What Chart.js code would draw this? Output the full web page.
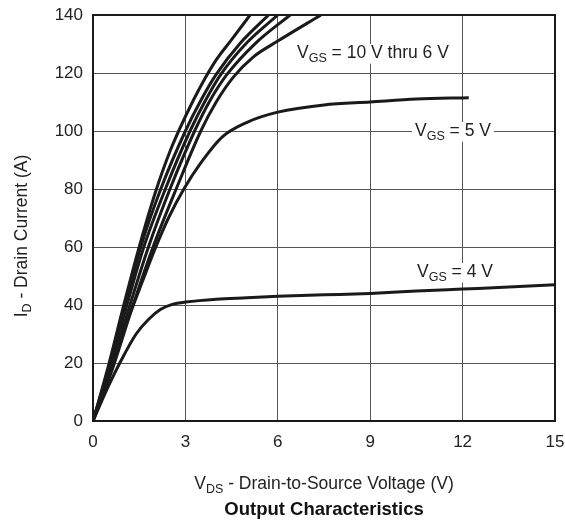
<!DOCTYPE html>
<html>
<head>
  <title>Output Characteristics</title>
  <script src="https://cdn.jsdelivr.net/npm/chart.js"></script>
  <style>
    body { margin: 0; background: #fff; }
  </style>
</head>
<body>
<canvas id="myChart" width="565" height="521"></canvas>

<script>
// V_DS (V) / I_D (A)
var vds10 = [0, 0.5, 1.0, 1.5, 2.0, 2.5, 3.0, 3.5, 4.0, 4.5, 5.1];
var id10  = [0, 19, 40, 60, 78, 93, 105, 115.5, 124.5, 131.5, 140];
var vds9  = [0, 0.5, 1.05, 1.55, 2.2, 3.0, 3.5, 4.0, 4.8, 5.7];
var id9   = [0, 18, 40, 60, 80, 100, 110.5, 119.5, 130.5, 140];
var vds8  = [0, 0.5, 1.1, 1.65, 2.35, 3.15, 3.65, 4.15, 5.0, 6.0];
var id8   = [0, 17, 40, 60, 80, 100, 110.5, 119.5, 130.5, 140];
var vds7  = [0, 0.55, 1.2, 1.8, 2.5, 3.3, 3.8, 4.35, 5.3, 6.4];
var id7   = [0, 17, 40, 60, 80, 100, 110.5, 119.5, 130.5, 140];
var vds6  = [0, 0.6, 1.3, 1.95, 2.7, 3.5, 4.0, 4.55, 5.2, 6.0, 7.4];
var id6   = [0, 17, 40, 60, 80, 100, 110, 118.5, 125.5, 131, 140];
var vds5  = [0, 0.6, 1.1, 1.6, 2.0, 2.45, 2.95, 3.5, 4.2, 5.0, 6.0, 7.5, 9.0, 10.5, 12.2];
var id5   = [0, 19, 34, 48, 59, 70, 80, 89, 98, 103, 106.5, 109, 110, 111, 111.5];
var vds4  = [0, 0.5, 0.87, 1.4, 1.8, 2.2, 2.6, 3.0, 4.0, 5.0, 6.0, 7.5, 9.0, 10.5, 12.0, 13.5, 15.0];
var id4   = [0, 12, 20, 30, 35, 38.5, 40.3, 41, 42, 42.5, 43, 43.5, 44, 44.8, 45.5, 46.2, 47];

var xTicks = [0, 3, 6, 9, 12, 15];
var yTicks = [0, 20, 40, 60, 80, 100, 120, 140];

var FONT = '"Liberation Sans", Arial, sans-serif';

function pts(xs, ys) {
  return xs.map(function(x, i) { return { x: x, y: ys[i] }; });
}

function curve(label, xs, ys) {
  return {
    label: label,
    data: pts(xs, ys),
    showLine: true,
    borderColor: '#1a1a1a',
    borderWidth: 3,
    pointRadius: 0,
    cubicInterpolationMode: 'monotone',
    fill: false
  };
}

function partsWidth(ctx, parts, size, subSize) {
  var w = 0;
  parts.forEach(function(p) {
    ctx.font = (p[1] ? subSize : size) + 'px ' + FONT;
    w += ctx.measureText(p[0]).width;
  });
  return w;
}

// text with subscripts: parts = [[text, isSub], ...]
function drawParts(ctx, parts, x, y, size, subSize, bg) {
  var w = partsWidth(ctx, parts, size, subSize);
  if (bg) {
    ctx.fillStyle = '#fff';
    ctx.fillRect(x - 3, y - size * 0.8, w + 6, size * 0.8 + subSize * 0.45);
  }
  ctx.fillStyle = '#222';
  ctx.textBaseline = 'alphabetic';
  ctx.textAlign = 'left';
  var cx = x;
  parts.forEach(function(p) {
    ctx.font = (p[1] ? subSize : size) + 'px ' + FONT;
    ctx.fillText(p[0], cx, p[1] ? y + 4 : y);
    cx += ctx.measureText(p[0]).width;
  });
  return w;
}

var textPlugin = {
  id: 'textPlugin',
  afterDraw: function(chart) {
    var ctx = chart.ctx;
    var a = chart.chartArea;
    ctx.save();

    // frame
    ctx.strokeStyle = '#1a1a1a';
    ctx.lineWidth = 2;
    ctx.strokeRect(a.left, a.top, a.right - a.left, a.bottom - a.top);

    // curve labels
    drawParts(ctx, [['V', 0], ['GS', 1], [' = 10 V thru 6 V', 0]], 297, 58, 17.5, 12.5, true);
    drawParts(ctx, [['V', 0], ['GS', 1], [' = 5 V', 0]], 415, 136, 17.5, 12.5, true);
    drawParts(ctx, [['V', 0], ['GS', 1], [' = 4 V', 0]], 417, 277, 17.5, 12.5, true);

    // x axis title
    var xp = [['V', 0], ['DS', 1], [' - Drain-to-Source Voltage (V)', 0]];
    var cxm = (a.left + a.right) / 2;
    var wx = partsWidth(ctx, xp, 17.5, 12.5);
    drawParts(ctx, xp, cxm - wx / 2, 489, 17.5, 12.5, false);

    // chart title
    ctx.font = 'bold 18.5px ' + FONT;
    ctx.fillStyle = '#111';
    ctx.textAlign = 'center';
    ctx.fillText('Output Characteristics', cxm, 515);

    // y axis title (rotated)
    var yp = [['I', 0], ['D', 1], [' - Drain Current (A)', 0]];
    var wy = partsWidth(ctx, yp, 17.5, 12.5);
    ctx.translate(27, 236);
    ctx.rotate(-Math.PI / 2);
    drawParts(ctx, yp, -wy / 2, 0, 17.5, 12.5, false);

    ctx.restore();
  }
};

var ctx = document.getElementById('myChart').getContext('2d');
var chart = new Chart(ctx, {
  type: 'scatter',
  data: {
    datasets: [
      curve('VGS = 10 V', vds10, id10),
      curve('VGS = 9 V', vds9, id9),
      curve('VGS = 8 V', vds8, id8),
      curve('VGS = 7 V', vds7, id7),
      curve('VGS = 6 V', vds6, id6),
      curve('VGS = 5 V', vds5, id5),
      curve('VGS = 4 V', vds4, id4)
    ]
  },
  options: {
    responsive: false,
    animation: false,
    layout: { padding: { top: 15, right: 10, left: 0, bottom: 0 } },
    plugins: {
      legend: { display: false },
      tooltip: { enabled: false }
    },
    scales: {
      x: {
        type: 'linear',
        min: 0,
        max: 15,
        afterBuildTicks: function(scale) {
          scale.ticks = xTicks.map(function(v) { return { value: v }; });
        },
        afterFit: function(scale) {
          scale.height = 100;
          scale.paddingLeft = 0;
          scale.paddingRight = 0;
        },
        ticks: { color: '#222', font: { family: FONT, size: 17 }, padding: 11 },
        grid: { color: '#555', lineWidth: 1, drawTicks: false },
        border: { color: '#1a1a1a', width: 2 }
      },
      y: {
        type: 'linear',
        min: 0,
        max: 140,
        afterBuildTicks: function(scale) {
          scale.ticks = yTicks.map(function(v) { return { value: v }; });
        },
        afterFit: function(scale) {
          scale.width = 93;
          scale.paddingTop = 0;
          scale.paddingBottom = 0;
        },
        ticks: { color: '#222', font: { family: FONT, size: 17 }, padding: 10 },
        grid: { color: '#555', lineWidth: 1, drawTicks: false },
        border: { color: '#1a1a1a', width: 2 }
      }
    }
  },
  plugins: [textPlugin]
});
</script>
</body>
</html>
